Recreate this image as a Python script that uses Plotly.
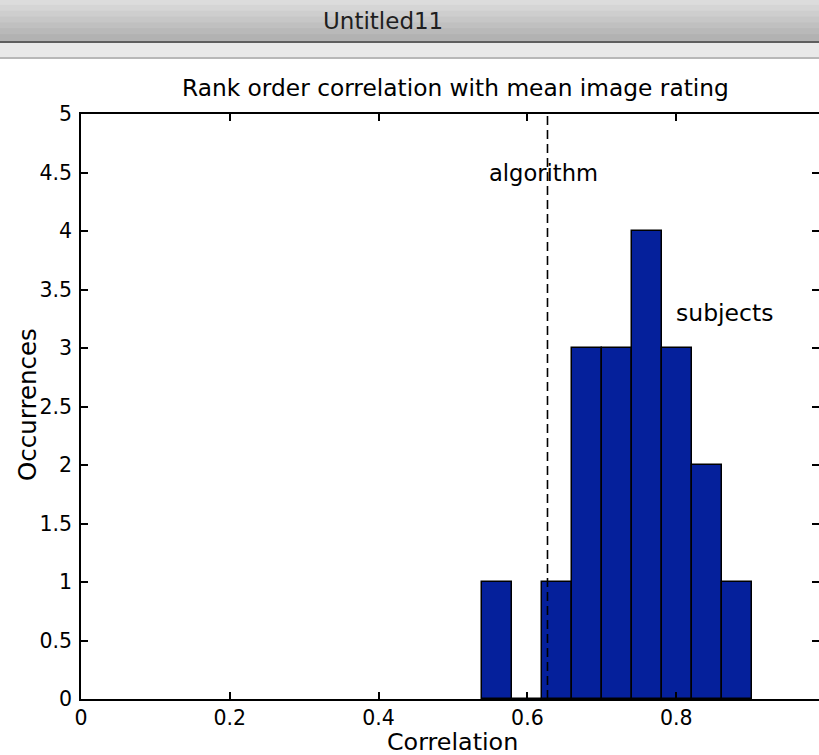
import plotly.graph_objects as go

# ---- data ----
bin_centers = [0.559, 0.600, 0.640, 0.680, 0.721, 0.761, 0.801, 0.842, 0.882]
counts = [1, 0, 1, 3, 3, 4, 3, 2, 1]
bin_width = 0.0403
algorithm_value = 0.627
x_tickvals = [0, 0.2, 0.4, 0.6, 0.8]
x_ticktext = ["0", "0.2", "0.4", "0.6", "0.8"]
y_tickvals = [0, 0.5, 1, 1.5, 2, 2.5, 3, 3.5, 4, 4.5, 5]
y_ticktext = ["0", "0.5", "1", "1.5", "2", "2.5", "3", "3.5", "4", "4.5", "5"]

FONT = "DejaVu Sans"
W, H = 819, 755
L, R, T, B = 81, 0, 114, 56
PW, PH = W - L - R, H - T - B


def px2paper_x(px):
    return (px - L) / PW


def px2paper_y(py):
    return (H - B - py) / PH


fig = go.Figure()
fig.add_trace(go.Bar(
    x=bin_centers, y=counts, width=bin_width,
    marker=dict(color="#05209b", line=dict(color="black", width=1.5)),
    showlegend=False, hoverinfo="skip",
))
fig.add_trace(go.Scatter(
    x=[algorithm_value, algorithm_value], y=[0, 5], mode="lines",
    line=dict(color="black", width=1.6, dash="9px,5px"),
    yaxis="y2", showlegend=False, hoverinfo="skip",
))

# window chrome (decoration)
shapes = []
top_cols = ["#dcdcdc", "#d5d5d5", "#cecece", "#c7c7c7", "#c0c0c0", "#b9b9b9", "#b2b2b2"]
band = 41 / len(top_cols)
for i, c in enumerate(top_cols):
    shapes.append(dict(type="rect", xref="paper", yref="paper", layer="above",
                       x0=px2paper_x(-10), x1=px2paper_x(830),
                       y0=px2paper_y(band * (i + 1) + 0.5), y1=px2paper_y(band * i - 1),
                       fillcolor=c, line=dict(width=0)))
for y0, y1, c in [(41, 43, "#5e5e5e"), (43, 57, "#e9e9e9"), (57, 59, "#b8b8b8")]:
    shapes.append(dict(type="rect", xref="paper", yref="paper", layer="above",
                       x0=px2paper_x(-10), x1=px2paper_x(830),
                       y0=px2paper_y(y1), y1=px2paper_y(y0),
                       fillcolor=c, line=dict(width=0)))

annotations = [
    dict(text="Untitled11", xref="paper", yref="paper",
         x=px2paper_x(383), y=px2paper_y(21), showarrow=False,
         font=dict(family=FONT, size=23, color="#1e1e1e"), xanchor="center", yanchor="middle"),
    dict(text="Rank order correlation with mean image rating", xref="paper", yref="paper",
         x=px2paper_x(455), y=px2paper_y(88), showarrow=False,
         font=dict(family=FONT, size=23.3, color="black"), xanchor="center", yanchor="middle"),
    dict(text="Correlation", xref="paper", yref="paper",
         x=px2paper_x(452), y=px2paper_y(742), showarrow=False,
         font=dict(family=FONT, size=23.8, color="black"), xanchor="center", yanchor="middle"),
    dict(text="Occurrences", xref="paper", yref="paper", textangle=-90,
         x=px2paper_x(27), y=px2paper_y(405), showarrow=False,
         font=dict(family=FONT, size=24.5, color="black"), xanchor="center", yanchor="middle"),
    dict(text="algorithm", xref="x", yref="y",
         x=0.621, y=4.5, showarrow=False,
         font=dict(family=FONT, size=22.6, color="black"), xanchor="center", yanchor="middle"),
    dict(text="subjects", xref="x", yref="y",
         x=0.865, y=3.3, showarrow=False,
         font=dict(family=FONT, size=23.5, color="black"), xanchor="center", yanchor="middle"),
]

fig.update_layout(
    width=W, height=H,
    margin=dict(l=L, r=R, t=T, b=B, pad=0),
    paper_bgcolor="white", plot_bgcolor="white",
    bargap=0,
    xaxis=dict(range=[0, PW / 744], tickvals=x_tickvals, ticktext=x_ticktext,
               ticks="inside", ticklen=7, tickwidth=1.5, tickcolor="black",
               showline=True, linecolor="black", linewidth=1.5, mirror="ticks",
               showgrid=False, zeroline=False,
               tickfont=dict(family=FONT, size=20.5, color="black")),
    yaxis=dict(range=[0, 5], tickvals=y_tickvals, ticktext=y_ticktext,
               ticks="inside", ticklen=7, tickwidth=1.5, tickcolor="black",
               showline=True, linecolor="black", linewidth=1.5, mirror=False,
               showgrid=False, zeroline=False, ticklabelstandoff=3,
               tickfont=dict(family=FONT, size=20.5, color="black")),
    yaxis2=dict(range=[0, 5], tickvals=y_tickvals, overlaying="y", side="right",
                anchor="free", position=1.0,
                ticks="inside", ticklen=7, tickwidth=1.5, tickcolor="black",
                showline=False, showgrid=False, zeroline=False, showticklabels=False),
    shapes=shapes,
    annotations=annotations,
)

fig.write_html(
    "out.html",
    config={"displayModeBar": False},
    post_script="document.body.style.margin='0';document.body.style.overflow='hidden';",
)
